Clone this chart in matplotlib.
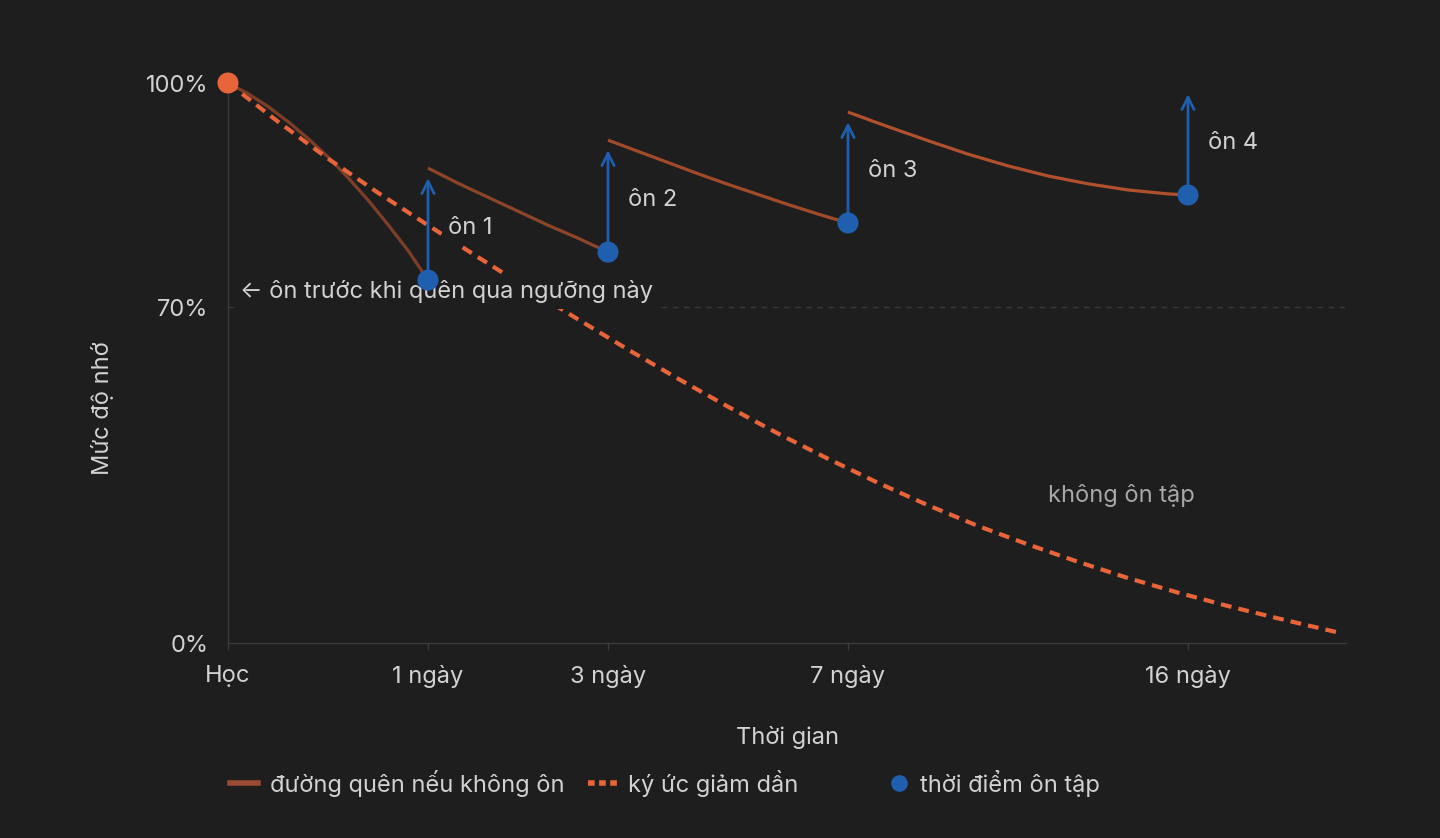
import numpy as np
import matplotlib.pyplot as plt
from matplotlib.lines import Line2D

plt.rcParams['font.family'] = ['Inter', 'DejaVu Sans']

# positions on a compressed time axis
tick_pos = [0, 10, 19, 31, 48]
tick_labels = ['Học', '1 ngày', '3 ngày', '7 ngày', '16 ngày']
ytick_pos = [0, 60, 100]
ytick_labels = ['0%', '70%', '100%']
threshold = 60

# memory decay without review (dashed)
decay_x = [0, 2.5, 5, 7.5, 10, 12.5, 15, 17.5, 20, 22.5, 25, 27.5, 30, 32.5, 35, 37.5,
           40, 42.5, 45, 47.5, 50, 52.5, 55, 55.6]
decay_y = [100, 93.1, 86.5, 80.4, 74.6, 68.9, 63.3, 57.8, 52.4, 47.2, 42.2, 37.4, 32.9,
           28.6, 24.6, 20.9, 17.6, 14.5, 11.6, 9.0, 6.6, 4.4, 2.3, 1.8]

# forgetting curve segments between reviews
seg_x = [
    [0, 1, 2, 3, 4, 5, 6, 7, 8, 9, 10],
    [10, 11.5, 13, 14.5, 16, 17.5, 19],
    [19, 20.5, 22, 23.5, 25, 26.5, 28, 29.5, 31],
    [31, 33, 35, 37, 39, 41, 43, 45, 47, 48],
]
seg_y = [
    [100, 98.1, 95.8, 93.1, 90.1, 86.8, 83.1, 79.1, 74.7, 70.1, 64.8],
    [84.8, 82.1, 79.6, 77.1, 74.6, 72.3, 69.8],
    [89.8, 87.8, 85.8, 83.8, 81.9, 80.1, 78.3, 76.6, 75.0],
    [94.8, 92.2, 89.7, 87.3, 85.2, 83.4, 82.0, 80.9, 80.2, 80.0],
]
seg_alpha = [0.62, 0.72, 0.85, 0.95]

review_x = [10, 19, 31, 48]
review_y = [64.8, 69.8, 75.0, 80.0]
review_top = [83.0, 88.0, 93.0, 98.0]
review_labels = ['ôn 1', 'ôn 2', 'ôn 3', 'ôn 4']

bg = '#1e1e1e'
brown = '#b9532d'
orange = '#e8643a'
blue = '#1f5fae'
txt = '#d2d2d2'
grid = '#3a3a3a'
fs = 17

fig = plt.figure(figsize=(14.4, 8.38), dpi=100, facecolor=bg)
ax = fig.add_axes([228/1440, 195/838, (1346-228)/1440, (643-83)/838])
ax.set_facecolor(bg)

ax.axhline(threshold, color=grid, lw=1, ls=(0, (4, 4)), zorder=1)

for xs, ys, a in zip(seg_x, seg_y, seg_alpha):
    ax.plot(xs, ys, color=brown, lw=2.3, alpha=a, solid_capstyle='butt', zorder=2)

ax.plot(decay_x, decay_y, color=orange, lw=3, ls=(0, (2.6, 1.7)), zorder=3)

ax.text(0.6, threshold + 2.7, '← ôn trước khi quên qua ngưỡng này', color=txt, fontsize=fs,
        va='center', ha='left', zorder=5,
        bbox=dict(boxstyle='square,pad=0.25', fc=bg, ec='none'))

for x, y, top, lab in zip(review_x, review_y, review_top, review_labels):
    ax.annotate('', xy=(x, top), xytext=(x, y), zorder=6,
                arrowprops=dict(arrowstyle='->', color=blue, lw=2, mutation_scale=22,
                                shrinkA=0, shrinkB=0))
    ax.text(x + 1.0, y + 9.3, lab, color=txt, fontsize=fs, va='center', ha='left', zorder=5,
            bbox=dict(boxstyle='square,pad=0.25', fc=bg, ec='none'))

ax.scatter(review_x, review_y, s=230, color=blue, zorder=7, edgecolors='none')
ax.scatter([0], [100], s=230, color=orange, zorder=7, clip_on=False, edgecolors='none')

ax.text(41, 26.4, 'không ôn tập', color='#a8a8a8', fontsize=fs, va='center', ha='left')

ax.set_xlim(0, 55.9)
ax.set_ylim(0, 100)
ax.set_xticks(tick_pos)
ax.set_xticklabels(tick_labels)
ax.set_yticks(ytick_pos)
ax.set_yticklabels(ytick_labels)
ax.tick_params(colors=grid, labelcolor=txt, labelsize=fs, length=5, width=1)
ax.tick_params(axis='x', pad=11)
ax.tick_params(axis='y', pad=14, length=0)
for s in ['top', 'right']:
    ax.spines[s].set_visible(False)
for s in ['left', 'bottom']:
    ax.spines[s].set_color(grid)
    ax.spines[s].set_linewidth(1)

ax.set_xlabel('Thời gian', color=txt, fontsize=fs, labelpad=27)
ax.set_ylabel('Mức độ nhớ', color=txt, fontsize=fs)
ax.yaxis.set_label_coords(-0.102, 0.42)

h1 = [Line2D([], [], color='#9c4a33', lw=4),
      Line2D([], [], color=orange, lw=4, ls=(0, (1.2, 0.8)))]
fig.legend(h1, ['đường quên nếu không ôn', 'ký ức giảm dần'], loc='center left',
           bbox_to_anchor=(230/1440, 1 - 783/838), ncol=2, frameon=False,
           fontsize=fs, labelcolor=txt, handlelength=1.2, handletextpad=0.5,
           columnspacing=1.0, borderpad=0, borderaxespad=0)
h2 = [Line2D([], [], color=blue, marker='o', ms=11, lw=0)]
fig.legend(h2, ['thời điểm ôn tập'], loc='center left',
           bbox_to_anchor=(887/1440, 1 - 783/838), frameon=False, fontsize=fs,
           labelcolor=txt, handlelength=1.0, handletextpad=0.4, borderpad=0, borderaxespad=0)

fig.savefig('out.png', dpi=100, facecolor=bg)
